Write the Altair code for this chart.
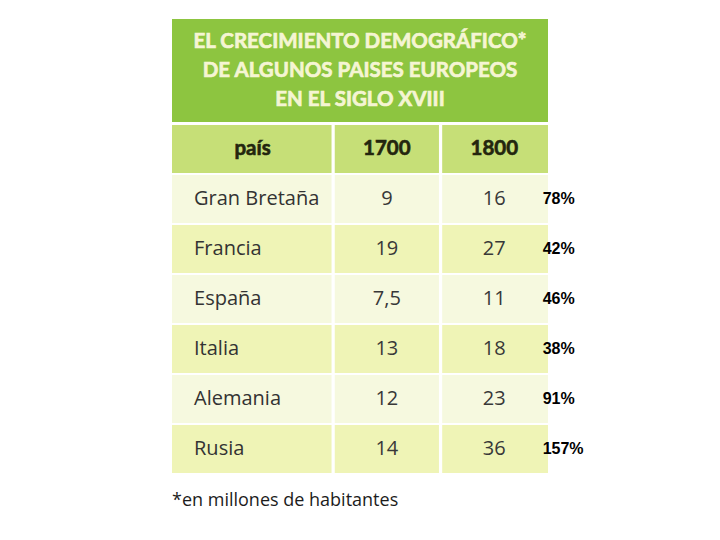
import altair as alt
import pandas as pd

# ---------------- data ----------------
countries = ["Gran Bretaña", "Francia", "España", "Italia", "Alemania", "Rusia"]
pop_1700 = [9, 19, 7.5, 13, 12, 14]
pop_1800 = [16, 27, 11, 18, 23, 36]
growth = ["78%", "42%", "46%", "38%", "91%", "157%"]
headers = ["país", "1700", "1800"]
title_lines = ["EL CRECIMIENTO DEMOGRÁFICO*", "DE ALGUNOS PAISES EUROPEOS", "EN EL SIGLO XVIII"]
footnote = "*en millones de habitantes"

# ---------------- layout (table units) ----------------
W, H = 704, 524
PX_COL = 376 / 7.0          # one column unit in px
PX_ROW = 50.0               # one row unit in px
LEFT, TOP = 164, 116        # table origin inside plot area
COL_EDGES = [(0, 3), (3, 5), (5, 7)]
COL_CENTER = [1.5, 4, 6]
GAP_X, GAP_Y = 0.03, 0.02

xs = alt.Scale(domain=[-LEFT / PX_COL, (W - LEFT) / PX_COL], nice=False, zero=False)
ys = alt.Scale(domain=[-TOP / PX_ROW, (H - TOP) / PX_ROW], nice=False, zero=False, reverse=True)


def fmt(v):
    return f"{v:g}".replace(".", ",")


# cell rectangles
cells = []
cells.append(dict(x0=0, x1=7, y0=-2.1, y1=-0.04, kind="title"))
for r in range(7):
    kind = "header" if r == 0 else ("pale" if r % 2 == 1 else "yellow")
    for c, (e0, e1) in enumerate(COL_EDGES):
        cells.append(dict(
            x0=e0 + (GAP_X if c > 0 else 0),
            x1=e1 - (GAP_X if c < 2 else 0),
            y0=r + GAP_Y, y1=r + 1 - GAP_Y, kind=kind))
cells_df = pd.DataFrame(cells)

rects = alt.Chart(cells_df).mark_rect().encode(
    x=alt.X("x0:Q", scale=xs, axis=None),
    x2="x1:Q",
    y=alt.Y("y0:Q", scale=ys, axis=None),
    y2="y1:Q",
    color=alt.Color("kind:N", legend=None, scale=alt.Scale(
        domain=["title", "header", "pale", "yellow"],
        range=["#8dc540", "#c6df77", "#f6f9df", "#eff4b6"])),
)

title_df = pd.DataFrame({"t": title_lines, "x": [3.5] * 3, "y": [-1.64, -1.06, -0.48]})
title_txt = alt.Chart(title_df).mark_text(
    font="Lato", fontWeight="bold", fontSize=20.5, color="#f5f5d3", stroke="#f5f5d3", strokeWidth=0.7,
    baseline="middle", align="center"
).encode(x=alt.X("x:Q", scale=xs, axis=None), y=alt.Y("y:Q", scale=ys, axis=None), text="t:N")

head_df = pd.DataFrame({"t": headers, "x": COL_CENTER, "y": [0.5] * 3})
head_txt = alt.Chart(head_df).mark_text(
    font="Lato", fontWeight="bold", fontSize=20.5, color="#23260e", stroke="#23260e", strokeWidth=0.6,
    baseline="middle", align="center"
).encode(x=alt.X("x:Q", scale=xs, axis=None), y=alt.Y("y:Q", scale=ys, axis=None), text="t:N")

rows_y = [i + 1.5 for i in range(len(countries))]
name_df = pd.DataFrame({"t": countries, "x": [0.41] * 6, "y": rows_y})
name_txt = alt.Chart(name_df).mark_text(
    font="Open Sans", fontSize=20, color="#333333", baseline="middle", align="left"
).encode(x=alt.X("x:Q", scale=xs, axis=None), y=alt.Y("y:Q", scale=ys, axis=None), text="t:N")

num_df = pd.DataFrame({
    "t": [fmt(v) for v in pop_1700] + [fmt(v) for v in pop_1800],
    "x": [COL_CENTER[1]] * 6 + [COL_CENTER[2]] * 6,
    "y": rows_y + rows_y,
})
num_txt = alt.Chart(num_df).mark_text(
    font="Open Sans", fontSize=20, color="#383838", baseline="middle", align="center"
).encode(x=alt.X("x:Q", scale=xs, axis=None), y=alt.Y("y:Q", scale=ys, axis=None), text="t:N")

pct_df = pd.DataFrame({"t": growth, "x": [6.9] * 6, "y": rows_y})
pct_txt = alt.Chart(pct_df).mark_text(
    font="Liberation Sans", fontWeight="bold", fontSize=16, color="#000000", baseline="middle", align="left"
).encode(x=alt.X("x:Q", scale=xs, axis=None), y=alt.Y("y:Q", scale=ys, axis=None), text="t:N")

foot_df = pd.DataFrame({"t": [footnote], "x": [0.0], "y": [7.54]})
foot_txt = alt.Chart(foot_df).mark_text(
    font="Open Sans", fontSize=18, color="#1c1c1c", baseline="middle", align="left"
).encode(x=alt.X("x:Q", scale=xs, axis=None), y=alt.Y("y:Q", scale=ys, axis=None), text="t:N")

chart = alt.layer(rects, title_txt, head_txt, name_txt, num_txt, pct_txt, foot_txt).properties(
    width=W, height=H, padding=0, autosize=alt.AutoSizeParams(type="none"), background="white"
).configure_view(stroke=None)

chart.save("out.html", embed_options={"renderer": "svg", "actions": False})
